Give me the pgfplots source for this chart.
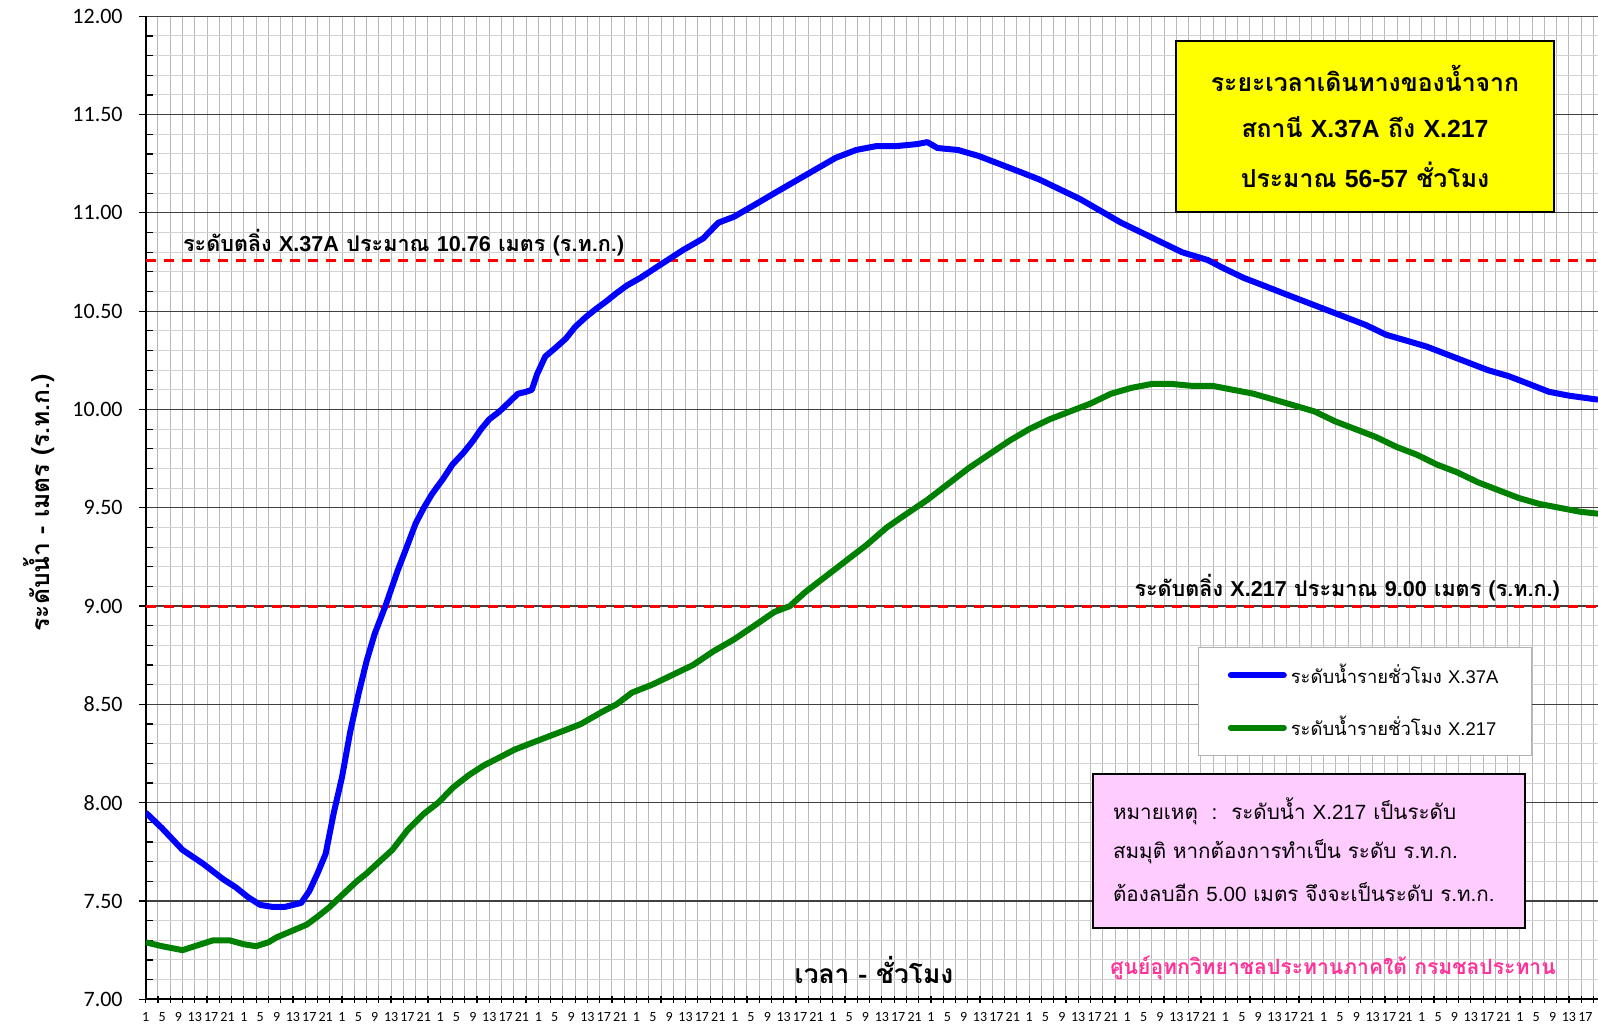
\documentclass[border=0pt]{standalone}
\usepackage{pgfplots}
\pgfplotsset{compat=1.18}
\usepackage{fontspec}
\setmainfont{Carlito}
\newfontfamily\thai[Script=Thai]{Loma}
\newfontfamily\lat{Liberation Sans}
\definecolor{xblue}{RGB}{0,0,255}
\definecolor{xgreen}{RGB}{0,128,0}
\definecolor{xred}{RGB}{255,0,0}
\definecolor{xyellow}{RGB}{255,255,0}
\definecolor{notepink}{RGB}{255,204,255}
\definecolor{footpink}{RGB}{255,51,153}
\begin{document}
\begin{tikzpicture}
\path[use as bounding box] (0,0) rectangle (799pt,513pt);
\clip (0,0) rectangle (799pt,513pt);
\begin{axis}[
  at={(72.85pt,13.35pt)}, anchor=south west,
  scale only axis, width=726.15pt, height=491.5pt,
  xmin=0, xmax=355.1, ymin=7, ymax=12,
  axis lines*=left,
  axis line style={black, line width=0.9pt},
  ytick={7,7.5,8,8.5,9,9.5,10,10.5,11,11.5,12},
  minor y tick num=4,
  xtick={0,4,...,352},
  xticklabels={1,5,9,13,17,21,1,5,9,13,17,21,1,5,9,13,17,21,1,5,9,13,17,21,1,5,9,13,17,21,1,5,9,13,17,21,1,5,9,13,17,21,1,5,9,13,17,21,1,5,9,13,17,21,1,5,9,13,17,21,1,5,9,13,17,21,1,5,9,13,17,21,1,5,9,13,17,21,1,5,9,13,17,21,1,5,9,13,17,21},
  minor xtick={0,3,...,354},
  xtick align=center, ytick align=outside,
  major tick length=3.5pt, minor tick length=3.5pt,
  major x tick style={draw=none},
  every minor y tick/.append style={xshift=3.5pt},
  tick style={black, line width=0.6pt},
  xmajorgrids=false, xminorgrids=true,
  ymajorgrids=true, yminorgrids=true,
  minor x grid style={gray!55, line width=0.5pt},
  minor y grid style={gray!35, line width=0.5pt},
  major y grid style={black!75, line width=0.6pt},
  yticklabel style={/pgf/number format/fixed, /pgf/number format/fixed zerofill, /pgf/number format/precision=2, /pgf/number format/assume math mode=true,
    font=\fontsize{11}{13}\selectfont, xshift=-4.5pt},
  xticklabel style={font=\fontsize{7}{8}\selectfont, yshift=-1.5pt},
  legend style={at={(axis cs:257.4,8.792)}, anchor=north west, draw=gray!60, fill=white,
    inner xsep=14.5pt, inner ysep=6.3pt, row sep=11pt,
    font=\thai\fontsize{9.2}{11}\selectfont},
  legend cell align=left,
  legend image code/.code={\draw[#1, line cap=round] (0pt,0pt) -- (26.5pt,0pt);},
]
\addplot[xred, line width=1.5pt, dash pattern=on 5pt off 4pt, forget plot] coordinates {(0,10.76) (355.1,10.76)};
\addplot[xred, line width=1.5pt, dash pattern=on 5pt off 4pt, forget plot] coordinates {(0,9.00) (355.1,9.00)};
\addplot[xblue, line width=3pt, line join=round] coordinates {
(0,7.95) (4,7.87) (9,7.76) (14,7.69) (19,7.61) (22,7.57) (25,7.52) (28,7.48) (31,7.47) (34,7.47)
(36,7.48) (38,7.49) (40,7.55) (42,7.64) (44,7.74) (46,7.95) (48,8.13) (50,8.36) (52,8.55) (54,8.72)
(56,8.86) (58.6,9.00) (61.6,9.18) (64,9.31) (66,9.42) (68,9.50) (70,9.57) (72.8,9.65) (75,9.72) (77.7,9.78)
(80,9.84) (82,9.90) (84,9.95) (86.5,9.99) (89,10.04) (91,10.08) (93,10.09) (94.4,10.10) (95.7,10.18) (97.7,10.27)
(100,10.31) (102.7,10.36) (105,10.42) (107.6,10.47) (110,10.51) (112.6,10.55) (115,10.59) (117.6,10.63) (121,10.67) (123.9,10.71)
(127.6,10.76) (131.3,10.81) (136.3,10.87) (140,10.95) (143.8,10.98) (148.8,11.04) (153.7,11.10) (158.7,11.16) (163.7,11.22) (168.7,11.28)
(173.7,11.32) (178.7,11.34) (183.7,11.34) (188.6,11.35) (191.1,11.36) (193.6,11.33) (198.6,11.32) (203.6,11.29) (208.6,11.25) (213.6,11.21)
(218.5,11.17) (223.5,11.12) (228.5,11.07) (233.5,11.01) (238.5,10.95) (243.5,10.90) (248.4,10.85) (253.4,10.80) (259.7,10.76) (263.4,10.72)
(268.4,10.67) (273.4,10.63) (278.3,10.59) (283.3,10.55) (288.3,10.51) (293.3,10.47) (298.3,10.43) (303.3,10.38) (308.3,10.35) (313.2,10.32)
(318.2,10.28) (323.2,10.24) (328.2,10.20) (333.2,10.17) (338.2,10.13) (343.1,10.09) (348.1,10.07) (355.1,10.05)
};
\addlegendentry{ระดับน้ำรายชั่วโมง {\lat X.37A}}
\addplot[xgreen, line width=3pt, line join=round] coordinates {
(0,7.29) (4,7.27) (9,7.25) (12,7.27) (16.5,7.30) (20.5,7.30) (24,7.28) (27,7.27) (30,7.29) (32,7.315)
(36,7.35) (39.4,7.38) (42,7.42) (45,7.47) (47.5,7.52) (51.6,7.60) (54,7.64) (56.6,7.69) (60.3,7.76) (64,7.86)
(67.8,7.94) (71.5,8.00) (75.3,8.08) (79,8.14) (82.7,8.19) (86.5,8.23) (90.2,8.27) (93.9,8.30) (98.9,8.34) (102.7,8.37)
(106.4,8.40) (111.4,8.46) (115.1,8.50) (118.9,8.56) (123.8,8.60) (128.8,8.65) (133.8,8.70) (138.8,8.77) (143.8,8.83) (148.8,8.90)
(153.7,8.97) (157.5,9.00) (161.2,9.07) (166.2,9.15) (171.2,9.23) (176.2,9.31) (181.2,9.40) (186.1,9.47) (191.1,9.54) (196.1,9.62)
(201.1,9.70) (206.1,9.77) (211.1,9.84) (216,9.90) (221,9.95) (226,9.99) (231,10.03) (236,10.08) (241,10.11) (246,10.13)
(250.9,10.13) (255.9,10.12) (260.9,10.12) (265.9,10.10) (270.9,10.08) (275.9,10.05) (280.9,10.02) (285.8,9.99) (290.8,9.94) (295.8,9.90)
(300.8,9.86) (305.8,9.81) (310.8,9.77) (315.7,9.72) (320.7,9.68) (325.7,9.63) (330.7,9.59) (335.7,9.55) (340.7,9.52) (345.7,9.50)
(350.7,9.48) (355.1,9.47)
};
\addlegendentry{ระดับน้ำรายชั่วโมง {\lat X.217}}
\end{axis}
\begin{scope}[x=0.5pt,y=-0.5pt,shift={(0,513pt)}]
% yellow box
\draw[fill=xyellow, line width=1pt] (1176,40.7) rectangle (1554,211.7);
\node[font=\thai\bfseries\fontsize{12.4}{14}\selectfont] at (1365,78) {ระยะเวลาเดินทางของน้ำจาก};
\node[font=\thai\bfseries\fontsize{12.4}{14}\selectfont] at (1365,127) {สถานี {\lat X.37A} ถึง {\lat X.217}};
\node[font=\thai\bfseries\fontsize{12.4}{14}\selectfont] at (1365,175) {ประมาณ {\lat 56-57} ชั่วโมง};
% note box
\draw[fill=notepink, line width=1pt] (1092.6,774.3) rectangle (1525,928.3);
\node[anchor=west, font=\thai\fontsize{10.3}{12}\selectfont] at (1106,811.7) {หมายเหตุ~~:~~ระดับน้ำ {\lat X.217} เป็นระดับ};
\node[anchor=west, font=\thai\fontsize{10.3}{12}\selectfont] at (1106,851.7) {สมมุติ หากต้องการทำเป็น ระดับ ร.ท.ก.};
\node[anchor=west, font=\thai\fontsize{10.3}{12}\selectfont] at (1106,891.7) {ต้องลบอีก {\lat 5.00} เมตร จึงจะเป็นระดับ ร.ท.ก.};
% footer
\node[font=\thai\bfseries\fontsize{10.55}{12}\selectfont, text=footpink] at (1333,968.3) {ศูนย์อุทกวิทยาชลประทานภาคใต้ กรมชลประทาน};
% axis titles
\node[font=\thai\bfseries\fontsize{13.2}{15}\selectfont] at (874,970) {เวลา - ชั่วโมง};
\node[font=\thai\bfseries\fontsize{12.3}{14}\selectfont, rotate=90] at (39,503) {ระดับน้ำ - เมตร (ร.ท.ก.)};
% bank level labels
\node[anchor=west, font=\thai\bfseries\fontsize{10.8}{12}\selectfont] at (176,243) {ระดับตลิ่ง {\lat X.37A} ประมาณ {\lat 10.76} เมตร (ร.ท.ก.)};
\node[anchor=east, font=\thai\bfseries\fontsize{10.8}{12}\selectfont] at (1567,588) {ระดับตลิ่ง {\lat X.217} ประมาณ {\lat 9.00} เมตร (ร.ท.ก.)};
\end{scope}
\end{tikzpicture}
\end{document}
